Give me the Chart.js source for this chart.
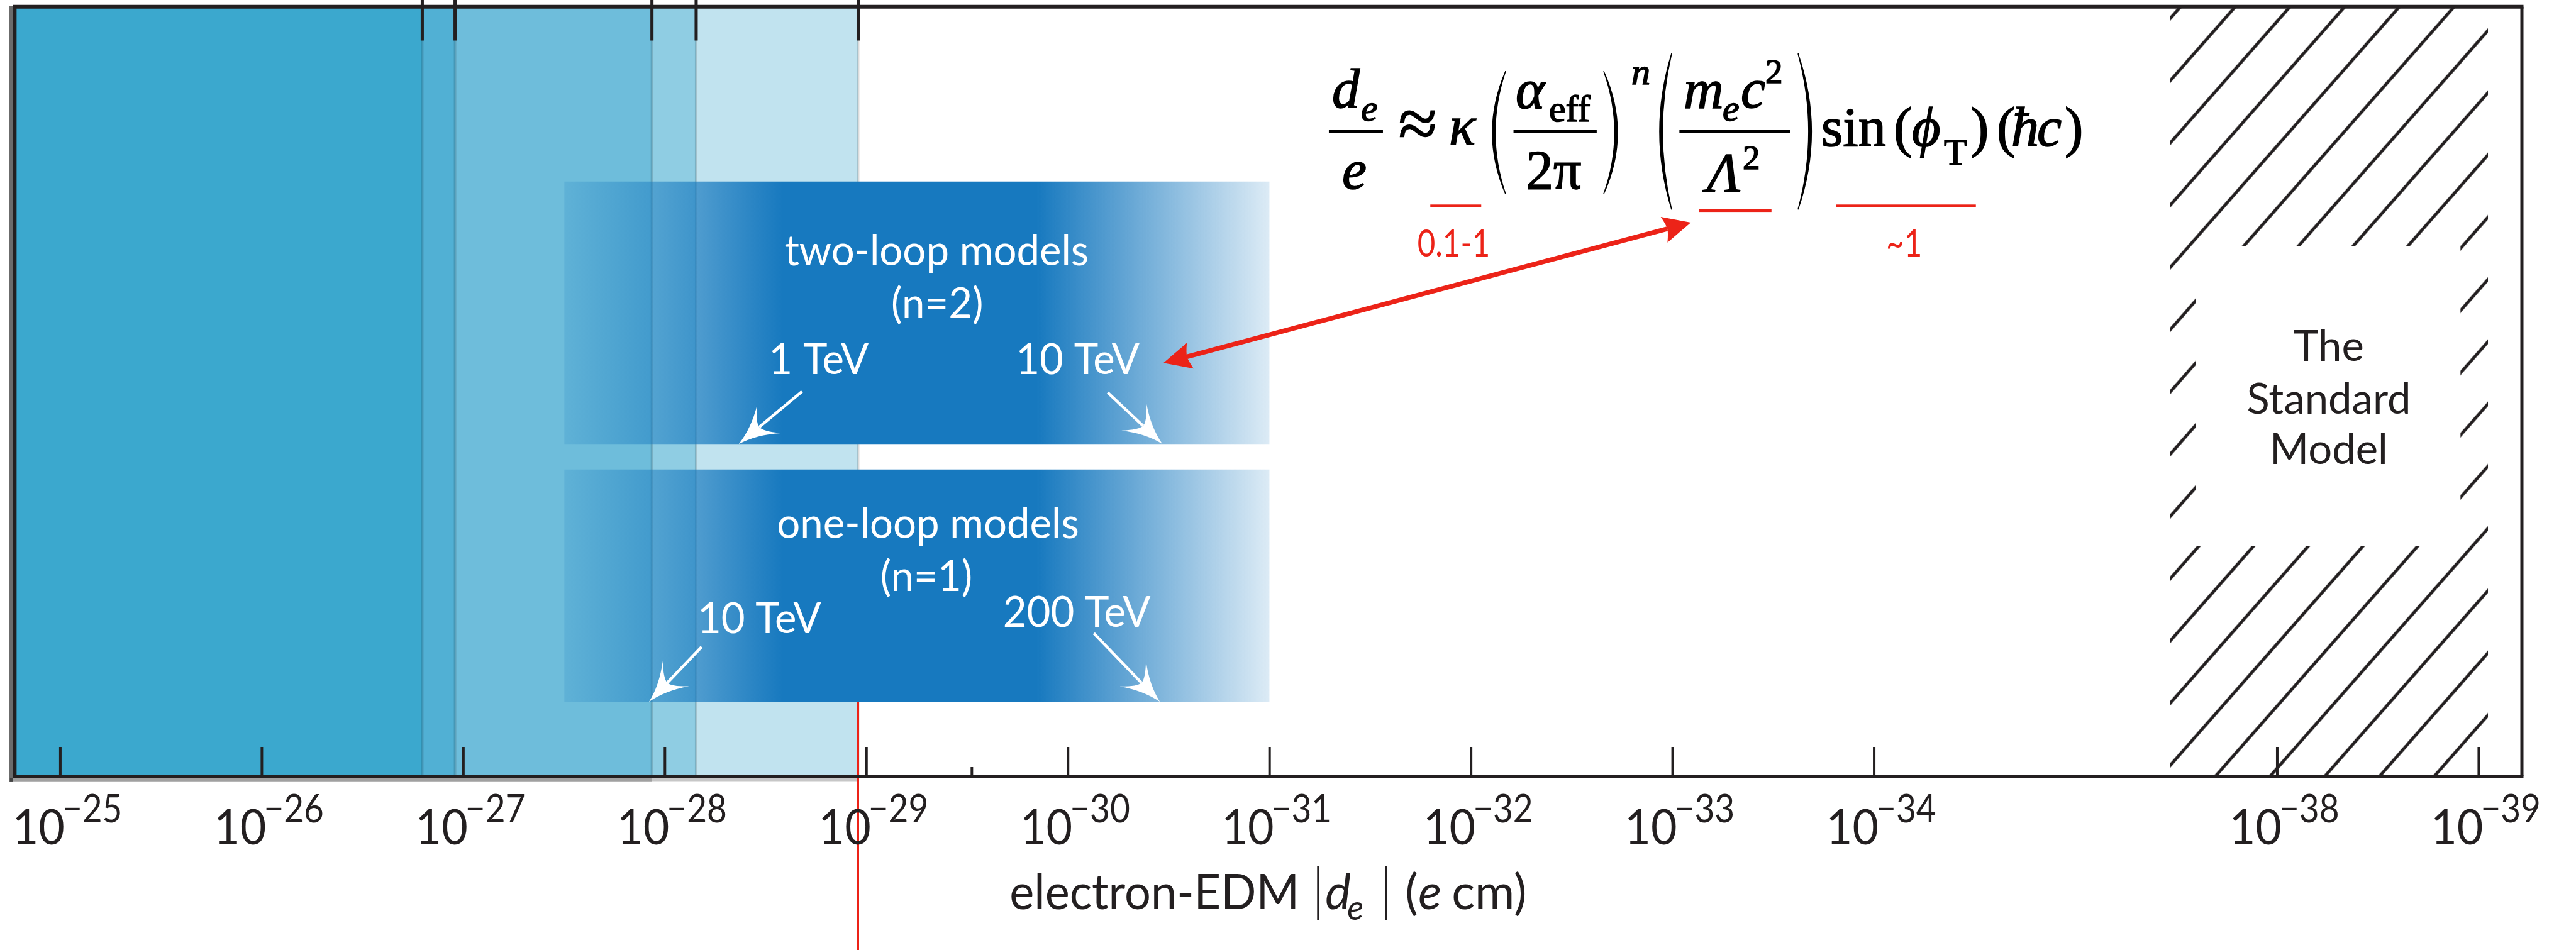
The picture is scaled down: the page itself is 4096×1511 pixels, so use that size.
<!DOCTYPE html>
<html>
<head>
<meta charset="utf-8">
<script src="https://cdn.jsdelivr.net/npm/chart.js@4.4.1/dist/chart.umd.min.js"></script>
<style>
html, body { margin: 0; padding: 0; background: #fff; }
canvas { display: block; }
</style>
</head>
<body>
<canvas id="chart" width="4096" height="1511"></canvas>
<script>
"use strict";
// axis: decades of |d_e| in e cm (broken between 1e-34 and 1e-38)
const tickExps = [-25, -26, -27, -28, -29, -30, -31, -32, -33, -34, -38, -39];
const minorTickValues = [3e-30];
// experimental upper limits, widest (newest) first
const limitValues = [1.1e-29, 7.0e-29, 1.16e-28, 1.1e-27, 1.6e-27];
const limitColors = ["#C1E3EF", "#8FCDE3", "#6EBDDB", "#51B0D4", "#3BA8CE"];
const newestLimit = 1.1e-29;
// model bands
const bandLabels = ["two-loop models", "one-loop models"];
const bandOrders = ["(n=2)", "(n=1)"];
const bandEdmRange = [3.16e-28, 1e-31];
const scaleLabels = [["1 TeV", "10 TeV"], ["10 TeV", "200 TeV"]];
const scaleEdm = [[4.3e-29, 3.4e-31], [1.2e-28, 3.5e-31]];
// Standard Model region
const smEdmRange = [3.4e-38, 9e-40];
const smLabel = ["The", "Standard", "Model"];

// ---- layout (axis units: x = decade position, y = 0..100) ----
const X_MIN = -0.2257, X_MAX = 12.214;
const bandY = [[77.3, 43.19], [39.89, 9.69]];
const smCut = [10.596, 11.91, 68.87, 29.89];
const bandText = [[4.348, 66.38], [4.305, 30.96]];
const orderText = [[4.351, 59.55], [4.297, 24.07]];
const scaleText = [[[3.763, 52.31], [5.048, 52.31]], [[3.468, 18.6], [5.043, 19.48]]];
const arrowTails = [[[3.68, 50.01], [5.197, 49.88]], [[3.182, 16.84], [5.128, 18.6]]];
const smText = [11.256, [53.99, 47.13, 40.56]];
const linkArrow = [[5.4736, 53.73], [8.0904, 71.96]];
const formulaAt = [6.2942, 83.79];

const INK = "#231F20";
const RED = "#EC2318";
const SANS = "Lato, 'Open Sans', sans-serif";
const SERIF = "'Liberation Serif', 'DejaVu Serif', serif";

function pos(v) {
  const e = Math.log10(v);
  return e > -35 ? -25 - e : -27 - e;
}

function makeHatch(ctx) {
  const c = document.createElement("canvas");
  c.width = 87; c.height = 99;
  const g = c.getContext("2d");
  g.strokeStyle = INK;
  g.lineWidth = 4.8;
  for (const k of [0, 1, 2]) {
    g.beginPath();
    g.moveTo(87 * (k + 1), -99);
    g.lineTo(87 * (k - 2), 198);
    g.stroke();
  }
  const p = ctx.createPattern(c, "repeat");
  p.setTransform(new DOMMatrix([1, 0, 0, 1, -3.4, 0]));
  return p;
}

function bandGradient(chart) {
  if (!chart.chartArea) return "#1779BF";
  const x1 = chart.scales.x.getPixelForValue(pos(bandEdmRange[0]));
  const x2 = chart.scales.x.getPixelForValue(pos(bandEdmRange[1]));
  const g = chart.ctx.createLinearGradient(x1, 0, x2, 0);
  g.addColorStop(0, "rgba(23,121,191,0.17)");
  g.addColorStop(0.31, "rgba(23,121,191,1)");
  g.addColorStop(0.67, "rgba(23,121,191,1)");
  g.addColorStop(1, "rgba(23,121,191,0.15)");
  return g;
}

const canvas = document.getElementById("chart");
const ctx = canvas.getContext("2d");
const hatch = makeHatch(ctx);

const datasets = [];
limitValues.forEach((v, i) => {
  datasets.push({
    data: [{ x: X_MIN, y: 100 }, { x: pos(v), y: 100 }, { x: pos(v), y: 0 }],
    backgroundColor: limitColors[i],
    borderColor: "rgba(0,0,0,0.14)",
    borderWidth: 4,
    fill: "start",
    order: 60 - i
  });
});
// shadow under the axis
datasets.push({
  data: [{ x: -0.25, y: -0.42 }, { x: pos(limitValues[0]), y: -0.42 }],
  borderColor: "rgba(0,0,0,0.22)", borderWidth: 4.5, fill: false, clip: false, order: 70
});
datasets.push({
  data: [{ x: -0.25, y: -0.45 }, { x: pos(limitValues[2]), y: -0.45 }],
  borderColor: "rgba(0,0,0,0.2)", borderWidth: 5, fill: false, clip: false, order: 69
});
// Standard Model hatch + cutout
datasets.push({
  data: [{ x: pos(smEdmRange[0]), y: 100 }, { x: pos(smEdmRange[1]), y: 100 }],
  backgroundColor: hatch, borderWidth: 0, fill: "start", order: 45
});
datasets.push({
  data: [{ x: smCut[0], y: smCut[2] }, { x: smCut[1], y: smCut[2] }],
  backgroundColor: "#ffffff", borderWidth: 0, fill: { value: smCut[3] }, order: 44
});
// model bands
bandY.forEach((yy) => {
  datasets.push({
    data: [{ x: pos(bandEdmRange[0]), y: yy[0] }, { x: pos(bandEdmRange[1]), y: yy[0] }],
    backgroundColor: (c) => bandGradient(c.chart),
    borderWidth: 0, fill: { value: yy[1] }, order: 30
  });
});
// newest limit line
datasets.push({
  data: [{ x: pos(newestLimit), y: bandY[1][1] }, { x: pos(newestLimit), y: -24 }],
  borderColor: RED, borderWidth: 3, fill: false, clip: false, order: 20
});

function head(c, tx, ty, ux, uy, o) {
  const nx = -uy, ny = ux, L = o.len, W = o.half, k = o.curve;
  const bx = tx - ux * L, by = ty - uy * L;
  const mx = tx - ux * L * o.notch, my = ty - uy * L * o.notch;
  c.fillStyle = o.color;
  c.beginPath();
  c.moveTo(tx, ty);
  c.quadraticCurveTo(tx - ux * L * 0.5 + nx * W * k, ty - uy * L * 0.5 + ny * W * k, bx + nx * W, by + ny * W);
  c.quadraticCurveTo(mx + nx * W * 0.3, my + ny * W * 0.3, mx, my);
  c.quadraticCurveTo(mx - nx * W * 0.3, my - ny * W * 0.3, bx - nx * W, by - ny * W);
  c.quadraticCurveTo(tx - ux * L * 0.5 - nx * W * k, ty - uy * L * 0.5 - ny * W * k, tx, ty);
  c.fill();
}

function arrow(c, x0, y0, x1, y1, o) {
  const L = Math.hypot(x1 - x0, y1 - y0);
  const ux = (x1 - x0) / L, uy = (y1 - y0) / L;
  const nb = o.len * o.notch;
  c.strokeStyle = o.color;
  c.lineWidth = o.width;
  c.lineCap = "butt";
  c.beginPath();
  c.moveTo(x0 + (o.both ? ux * nb : 0), y0 + (o.both ? uy * nb : 0));
  c.lineTo(x1 - ux * nb, y1 - uy * nb);
  c.stroke();
  head(c, x1, y1, ux, uy, o);
  if (o.both) head(c, x0, y0, -ux, -uy, o);
}

function txt(c, s, x, y, font, align, color, bold, sx) {
  c.font = font;
  c.textAlign = align || "left";
  c.fillStyle = color || INK;
  c.save();
  c.translate(x, y);
  if (sx) c.scale(sx, 1);
  c.fillText(s, 0, 0);
  if (bold) {
    c.strokeStyle = color || INK;
    c.lineWidth = bold;
    c.strokeText(s, 0, 0);
  }
  c.restore();
}

function paren(c, xOuter, xEnd, y0, y1, w) {
  const ym = (y0 + y1) / 2;
  c.beginPath();
  c.moveTo(xEnd, y0);
  c.quadraticCurveTo(2 * xOuter - xEnd, ym, xEnd, y1);
  c.quadraticCurveTo(2 * (xOuter + w) - xEnd, ym, xEnd, y0);
  c.fill();
  c.lineWidth = 1.5;
  c.stroke();
}

function drawFormula(c, fx, fy) {
  const M = 88, S = 60, SS = 55;
  const it = (n) => "italic " + n + "px " + SERIF;
  const rm = (n) => n + "px " + SERIF;
  const parts = [
    ["d", 5, -38, it(M)], ["e", 51, -17, it(S)], ["e", 40.5, 91, it(M), "center"],
    ["\u2248", 141.4, 25, rm(112), "center"], ["\u03BA", 191, 20.7, it(M)],
    ["\u03B1", 297, -37.2, it(M)], ["eff", 350, -16.5, rm(S)], ["2\u03C0", 357.2, 91, rm(M), "center"],
    ["n", 481, -75.2, it(S)],
    ["m", 564, -37.2, it(M)], ["e", 626, -17.3, it(S)], ["c", 655, -38, it(M)], ["2", 694, -76.9, rm(SS)],
    ["\u039B", 601, 95.1, it(M)], ["2", 658, 59.6, rm(SS)],
    ["sin", 783, 22.4, rm(M)], ["(", 898, 22.4, rm(M)], ["\u03D5", 927, 22.4, it(M)], ["T", 978, 53, rm(S)],
    [")", 1020, 22.4, rm(M)], ["(", 1062, 22.4, rm(M)], ["\u0127", 1085, 22.4, it(M)],
    ["c", 1126, 22.4, it(M)], [")", 1170, 22.4, rm(M)]
  ];
  for (const p of parts) txt(c, p[0], fx + p[1], fy + p[2], p[3], p[4], "#000", 1.6);
  c.fillStyle = "#000";
  c.strokeStyle = "#000";
  for (const b of [[0, 86], [293.6, 425.9], [557.4, 733.5]]) c.fillRect(fx + b[0], fy - 2.2, b[1] - b[0], 4.4);
  paren(c, fx + 260, fx + 281, fy - 96, fy + 99.3, 4.5);
  paren(c, fx + 459, fx + 437, fy - 96, fy + 99.3, -4.5);
  paren(c, fx + 526, fx + 545, fy - 124, fy + 124.1, 4.5);
  paren(c, fx + 767.4, fx + 746, fy - 124, fy + 124.1, -4.5);
  c.fillStyle = RED;
  for (const u of [[161.3, 242.3, 118.3], [588.8, 703.8, 125.7], [807, 1028.8, 118.3]]) {
    c.fillRect(fx + u[0], fy + u[2] - 2.2, u[1] - u[0], 4.4);
  }
  txt(c, "0.1-1", fx + 198.5, fy + 198.5, "60px " + SANS, "center", RED, 0, 0.82);
  txt(c, "~1", fx + 914.7, fy + 198.5, "60px " + SANS, "center", RED, 0, 0.82);
}

const decor = {
  id: "decor",
  afterDatasetsDraw(chart) {
    const { ctx: c, chartArea: a, scales } = chart;
    const X = (v) => scales.x.getPixelForValue(v);
    const Y = (v) => scales.y.getPixelForValue(v);
    c.save();
    // frame
    c.fillStyle = "rgba(0,0,0,0.58)";
    c.fillRect(a.left - 9, a.top - 1, 6.1, a.bottom - a.top + 9);
    c.fillStyle = INK;
    c.fillRect(a.left - 2.75, a.top - 3, a.right - a.left + 5.25, 6);
    c.fillRect(a.left - 2.75, a.bottom - 2.9, a.right - a.left + 5.25, 5.8);
    c.fillRect(a.left - 2.75, a.top, 5.5, a.bottom - a.top);
    c.fillRect(a.right - 2.5, a.top, 5, a.bottom - a.top);
    // ticks
    for (const e of tickExps) c.fillRect(X(pos(Math.pow(10, e))) - 2, a.bottom - 47, 4, 47);
    for (const v of minorTickValues) c.fillRect(X(pos(v)) - 2, a.bottom - 15, 4, 15);
    for (const v of limitValues) c.fillRect(X(pos(v)) - 2.5, 0, 5, 64.5);
    // tick labels
    c.textBaseline = "alphabetic";
    for (const e of tickExps) {
      const px = X(pos(Math.pow(10, e)));
      txt(c, "10", px + 7, a.bottom + 108, "78px " + SANS, "right", INK, 0, 0.92);
      txt(c, "\u2212" + Math.abs(e), px + 3, a.bottom + 73, "61px " + SANS, "left", INK, 0, 0.9);
    }
    // axis title
    const t0 = (a.left + a.right) / 2 - 411.5, tb = a.bottom + 211;
    txt(c, "electron-EDM", t0, tb, "77px " + SANS, "left", INK, 0, 0.96);
    c.fillStyle = INK;
    c.fillRect(t0 + 489, a.bottom + 142, 3, 87);
    txt(c, "d", t0 + 502, tb, "italic 77px " + SANS);
    txt(c, "e", t0 + 537, a.bottom + 228, "italic 54px " + SANS);
    c.fillStyle = INK;
    c.fillRect(t0 + 597, a.bottom + 142, 3, 87);
    txt(c, "(", t0 + 629, tb, "77px " + SANS);
    txt(c, "e", t0 + 650, tb, "italic 77px " + SANS);
    txt(c, "cm)", t0 + 703, tb, "77px " + SANS);
    // white arrows from energy scales to band edge
    const wOpt = { color: "#ffffff", width: 4.5, len: 62, half: 29, notch: 0.68, curve: 0.22 };
    arrowTails.forEach((pair, i) => pair.forEach((t, j) => {
      arrow(c, X(t[0]), Y(t[1]), X(pos(scaleEdm[i][j])), Y(bandY[i][1]), wOpt);
    }));
    // red link arrow
    arrow(c, X(linkArrow[0][0]), Y(linkArrow[0][1]), X(linkArrow[1][0]), Y(linkArrow[1][1]),
      { color: RED, width: 7.5, len: 44, half: 21, notch: 0.88, curve: 0.5, both: true });
    // band labels
    const wf = "68px " + SANS;
    bandLabels.forEach((s, i) => {
      txt(c, s, X(bandText[i][0]), Y(bandText[i][1]), wf, "center", "#fff", 0, 0.96);
      txt(c, bandOrders[i], X(orderText[i][0]), Y(orderText[i][1]), wf, "center", "#fff", 0, 0.96);
      scaleLabels[i].forEach((l, j) => txt(c, l, X(scaleText[i][j][0]), Y(scaleText[i][j][1]), wf, "center", "#fff", 0, 0.96));
    });
    // Standard Model
    smLabel.forEach((s, i) => txt(c, s, X(smText[0]), Y(smText[1][i]), "67px " + SANS, "center", INK));
    // formula
    drawFormula(c, X(formulaAt[0]), Y(formulaAt[1]));
    c.restore();
  }
};

new Chart(ctx, {
  type: "line",
  data: { datasets: datasets },
  options: {
    responsive: false,
    animation: false,
    events: [],
    layout: { padding: { left: 23.6, right: 86, top: 10.75, bottom: 276 } },
    elements: { point: { radius: 0 }, line: { tension: 0 } },
    plugins: { legend: { display: false }, tooltip: { enabled: false } },
    scales: {
      x: { type: "linear", min: X_MIN, max: X_MAX, display: false },
      y: { type: "linear", min: 0, max: 100, display: false }
    }
  },
  plugins: [decor]
});
</script>
</body>
</html>
